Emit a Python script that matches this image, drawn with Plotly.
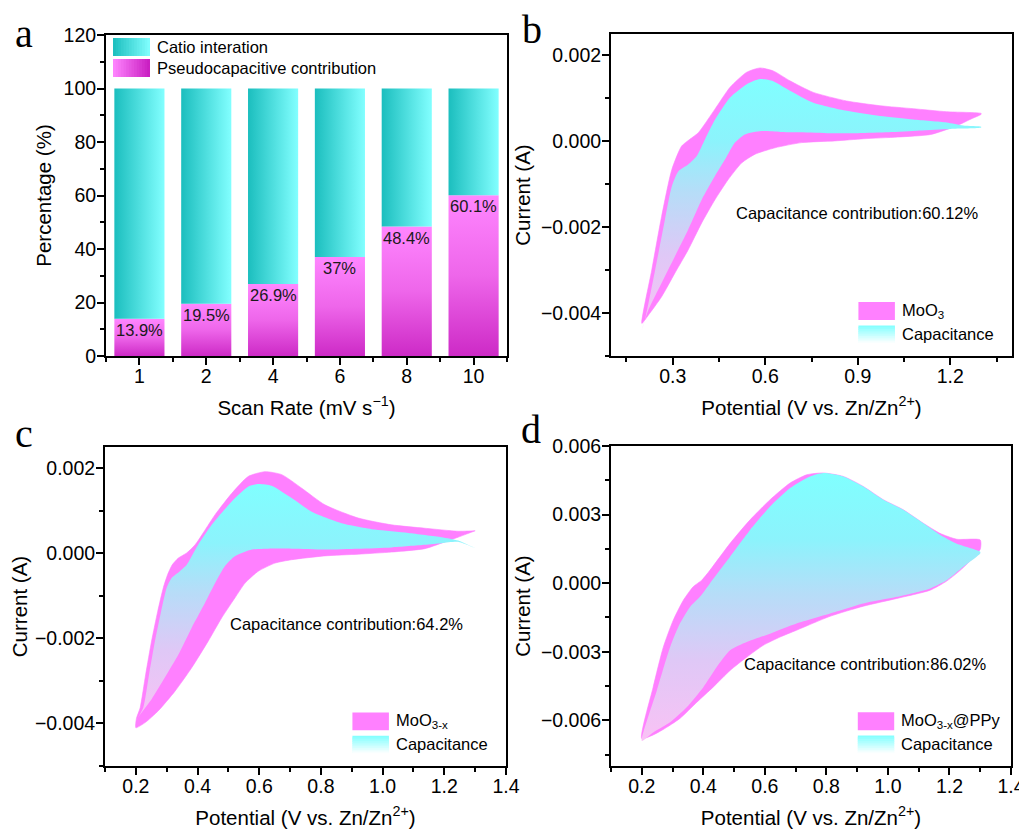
import plotly.graph_objects as go

FONT = "Liberation Sans, Arial, Helvetica, sans-serif"
SERIF = "Liberation Serif, Times New Roman, serif"

# ---------------- panel a data ----------------
scan_rates = ["1", "2", "4", "6", "8", "10"]
pseudocapacitive = [13.9, 19.5, 26.9, 37.0, 48.4, 60.1]
catio_intercalation = [86.1, 80.5, 73.1, 63.0, 51.6, 39.9]
bar_labels = ["13.9%", "19.5%", "26.9%", "37%", "48.4%", "60.1%"]

# ---------------- panel b data (MoO3) : (potential V, current A) ----------------
b_total_anodic = [(0.200, -0.00424), (0.232, -0.00300), (0.264, -0.00175), (0.297, -0.00066),
                  (0.329, -0.00011), (0.356, 0.00005), (0.383, 0.00020), (0.437, 0.00075),
                  (0.486, 0.00126), (0.540, 0.00161), (0.583, 0.00171), (0.626, 0.00164),
                  (0.680, 0.00141), (0.756, 0.00114), (0.864, 0.00094), (0.972, 0.00083),
                  (1.080, 0.00076), (1.188, 0.00069), (1.300, 0.00065)]
b_total_cathodic = [(1.300, 0.00063), (1.264, 0.00051), (1.220, 0.00036), (1.137, 0.00016),
                    (1.030, 0.00010), (0.920, 0.00006), (0.826, 0.00001), (0.718, -0.00003),
                    (0.632, -0.00015), (0.567, -0.00030), (0.524, -0.00050), (0.480, -0.00089),
                    (0.437, -0.00136), (0.394, -0.00190), (0.350, -0.00253), (0.307, -0.00307),
                    (0.264, -0.00362), (0.221, -0.00405), (0.200, -0.00424)]
b_cap_anodic = [(0.200, -0.00440), (0.210, -0.00416), (0.243, -0.00300), (0.275, -0.00182),
                (0.297, -0.00105), (0.318, -0.00070), (0.350, -0.00054), (0.378, -0.00034),
                (0.405, 0.00005), (0.437, 0.00050), (0.486, 0.00102), (0.540, 0.00133),
                (0.583, 0.00145), (0.626, 0.00140), (0.680, 0.00118), (0.756, 0.00090),
                (0.864, 0.00071), (0.972, 0.00059), (1.080, 0.00051), (1.188, 0.00044),
                (1.242, 0.00037), (1.300, 0.00034)]
b_cap_cathodic = [(1.300, 0.00032), (1.200, 0.00029), (1.100, 0.00025), (1.000, 0.00021),
                  (0.900, 0.00019), (0.800, 0.00019), (0.700, 0.00021), (0.650, 0.00022),
                  (0.588, 0.00024), (0.534, 0.00016), (0.502, -0.00003), (0.470, -0.00042),
                  (0.437, -0.00081), (0.394, -0.00136), (0.350, -0.00206), (0.307, -0.00268),
                  (0.264, -0.00330), (0.221, -0.00393), (0.200, -0.00440)]

# ---------------- panel c data (MoO3-x) ----------------
c_total_anodic = [(0.200, -0.00410), (0.202, -0.00388), (0.214, -0.00363), (0.232, -0.00284),
                  (0.251, -0.00206), (0.271, -0.00136), (0.289, -0.00081), (0.303, -0.00050),
                  (0.318, -0.00027), (0.338, -0.00011), (0.365, 0.00001), (0.392, 0.00020),
                  (0.457, 0.00091), (0.511, 0.00141), (0.565, 0.00181), (0.619, 0.00192),
                  (0.673, 0.00185), (0.738, 0.00153), (0.813, 0.00114), (0.921, 0.00083),
                  (1.029, 0.00067), (1.137, 0.00059), (1.245, 0.00052), (1.300, 0.00053)]
c_total_cathodic = [(1.300, 0.00053), (1.245, 0.00038), (1.191, 0.00024), (1.137, 0.00011),
                    (1.029, 0.00003), (0.921, -0.00002), (0.813, -0.00006), (0.705, -0.00015),
                    (0.651, -0.00023), (0.597, -0.00042), (0.554, -0.00070), (0.521, -0.00105),
                    (0.478, -0.00152), (0.435, -0.00206), (0.381, -0.00269), (0.327, -0.00324),
                    (0.273, -0.00370), (0.230, -0.00398), (0.200, -0.00410)]
c_cap_anodic = [(0.200, -0.00395), (0.224, -0.00363), (0.243, -0.00284), (0.262, -0.00206),
                (0.282, -0.00136), (0.300, -0.00081), (0.316, -0.00058), (0.343, -0.00042),
                (0.365, -0.00027), (0.381, -0.00007), (0.402, 0.00020), (0.446, 0.00067),
                (0.511, 0.00122), (0.565, 0.00157), (0.597, 0.00163), (0.640, 0.00159),
                (0.705, 0.00130), (0.770, 0.00098), (0.867, 0.00071), (0.975, 0.00056),
                (1.083, 0.00048), (1.191, 0.00038), (1.245, 0.00030), (1.300, 0.00012)]
c_cap_cathodic = [(1.300, 0.00012), (1.245, 0.00027), (1.191, 0.00024), (1.137, 0.00020),
                  (1.029, 0.00014), (0.921, 0.00011), (0.813, 0.00009), (0.705, 0.00011),
                  (0.629, 0.00011), (0.576, 0.00009), (0.521, -0.00007), (0.489, -0.00030),
                  (0.457, -0.00070), (0.424, -0.00117), (0.381, -0.00175), (0.338, -0.00238),
                  (0.294, -0.00292), (0.251, -0.00343), (0.215, -0.00378), (0.200, -0.00395)]

# ---------------- panel d data (MoO3-x@PPy) ----------------
d_total_anodic = [(0.200, -0.00680), (0.237, -0.00455), (0.270, -0.00280), (0.302, -0.00163),
                  (0.335, -0.00075), (0.367, -0.00016), (0.395, 0.00013), (0.422, 0.00057),
                  (0.487, 0.00174), (0.552, 0.00277), (0.617, 0.00365), (0.682, 0.00438),
                  (0.736, 0.00474), (0.790, 0.00482), (0.855, 0.00467), (0.920, 0.00423),
                  (0.985, 0.00365), (1.050, 0.00321), (1.115, 0.00262), (1.169, 0.00218),
                  (1.224, 0.00192), (1.300, 0.00189)]
d_total_cathodic = [(1.300, 0.00148), (1.245, 0.00068), (1.191, 0.00009), (1.137, -0.00031),
                    (1.029, -0.00067), (0.920, -0.00101), (0.812, -0.00145), (0.703, -0.00206),
                    (0.649, -0.00236), (0.595, -0.00272), (0.541, -0.00324), (0.487, -0.00382),
                    (0.432, -0.00455), (0.379, -0.00521), (0.324, -0.00592), (0.270, -0.00640),
                    (0.237, -0.00664), (0.200, -0.00680)]
d_cap_anodic = [(0.200, -0.00690), (0.249, -0.00470), (0.292, -0.00280), (0.324, -0.00177),
                (0.357, -0.00104), (0.389, -0.00060), (0.422, 0.00000), (0.487, 0.00116),
                (0.552, 0.00233), (0.617, 0.00335), (0.682, 0.00416), (0.747, 0.00467),
                (0.790, 0.00482), (0.855, 0.00467), (0.920, 0.00423), (0.985, 0.00365),
                (1.050, 0.00321), (1.115, 0.00262), (1.169, 0.00212), (1.224, 0.00172),
                (1.300, 0.00137)]
d_cap_cathodic = [(1.300, 0.00130), (1.245, 0.00072), (1.191, 0.00013), (1.137, -0.00023),
                  (1.029, -0.00060), (0.920, -0.00089), (0.812, -0.00133), (0.703, -0.00177),
                  (0.617, -0.00221), (0.541, -0.00258), (0.487, -0.00294), (0.443, -0.00368),
                  (0.400, -0.00455), (0.346, -0.00543), (0.292, -0.00609), (0.237, -0.00653),
                  (0.200, -0.00690)]

panel_series = {
    "b": ("MoO<sub>3</sub>", b_total_anodic, b_total_cathodic, b_cap_anodic, b_cap_cathodic,
          "Capacitance contribution:60.12%"),
    "c": ("MoO<sub>3-x</sub>", c_total_anodic, c_total_cathodic, c_cap_anodic, c_cap_cathodic,
          "Capacitance contribution:64.2%"),
    "d": ("MoO<sub>3-x</sub>@PPy", d_total_anodic, d_total_cathodic, d_cap_anodic, d_cap_cathodic,
          "Capacitance contribution:86.02%"),
}

# ---------------- styles / page geometry ----------------
OFF = 8            # the page body margin
W, H = 1019, 824   # figure size so that figure + margin fills the 1027x832 window
MAGENTA = "#FF80FF"
TEAL_BAR = [[0, "#1BBEBE"], [1, "#82FFFF"]]
PINK_BAR = [[0, "#CD2AC6"], [0.5, "#EE66EA"], [1, "#FF86FF"]]
CAP_SCALE = [[0, "#F9C2F5"], [0.3, "#DFC8F6"], [0.55, "#B6DDF8"], [0.75, "#8CF3FC"], [1, "#80FFFF"]]
TICK_SIZE = 19.5
TITLE_SIZE = 20.5
TEXT_SIZE = 16.5
SMOOTH = 0.6


def dom_x(p0, p1):
    return [(p0 - OFF) / W, (p1 - OFF) / W]


def dom_y(top, bottom):
    return [1 - (bottom - OFF) / H, 1 - (top - OFF) / H]


fig = go.Figure()

# ---- panel a bars (stacked) ----
BAR_W = 0.75
for i, (p, c) in enumerate(zip(pseudocapacitive, catio_intercalation)):
    x0, x1 = i - BAR_W / 2, i + BAR_W / 2
    fig.add_trace(go.Scatter(
        x=[x0, x1, x1, x0, x0], y=[0, 0, p, p, 0], mode="lines", fill="toself",
        line=dict(width=0), fillgradient=dict(type="vertical", colorscale=PINK_BAR),
        name="Pseudocapacitive contribution", showlegend=False, hoverinfo="skip",
        xaxis="x", yaxis="y"))
    fig.add_trace(go.Scatter(
        x=[x0, x1, x1, x0, x0], y=[p, p, p + c, p + c, p], mode="lines", fill="toself",
        line=dict(width=0), fillgradient=dict(type="horizontal", colorscale=TEAL_BAR),
        name="Catio interation", showlegend=False, hoverinfo="skip",
        xaxis="x", yaxis="y"))

annotations = []
for i, (p, lab) in enumerate(zip(pseudocapacitive, bar_labels)):
    annotations.append(dict(x=i, y=p, xref="x", yref="y", text=lab, showarrow=False,
                            yanchor="top", xanchor="center", yshift=0,
                            font=dict(family=FONT, size=TEXT_SIZE, color="#1a1a1a")))


def loop(anodic, cathodic):
    xs = [pt[0] for pt in anodic] + [pt[0] for pt in cathodic]
    ys = [pt[1] for pt in anodic] + [pt[1] for pt in cathodic]
    return xs, ys


axis_ids = {"b": ("x2", "y2"), "c": ("x3", "y3"), "d": ("x4", "y4")}
for key, (label, ta, tc, ca, cc, note) in panel_series.items():
    xa, ya = axis_ids[key]
    tx, ty = loop(ta, tc)
    fig.add_trace(go.Scatter(x=tx, y=ty, mode="lines", fill="toself", fillcolor=MAGENTA,
                             line=dict(width=0.6, color=MAGENTA, shape="spline", smoothing=SMOOTH),
                             name=label, showlegend=False, hoverinfo="skip", xaxis=xa, yaxis=ya))
    cx, cy = loop(ca, cc)
    fig.add_trace(go.Scatter(x=cx, y=cy, mode="lines", fill="toself",
                             fillgradient=dict(type="vertical", colorscale=CAP_SCALE),
                             line=dict(width=0, shape="spline", smoothing=SMOOTH),
                             name="Capacitance", showlegend=False, hoverinfo="skip", xaxis=xa, yaxis=ya))


# ---------------- axes ----------------
def axis(**kw):
    base = dict(showline=True, linewidth=2, linecolor="black", mirror=True,
                ticks="outside", ticklen=7, tickwidth=1.5, tickcolor="black",
                showgrid=False, zeroline=False, automargin=False,
                tickfont=dict(family=FONT, size=TICK_SIZE, color="black"),
                title_font=dict(family=FONT, size=TITLE_SIZE, color="black"))
    base.update(kw)
    return base


def minor(**kw):
    base = dict(ticks="outside", ticklen=4, tickwidth=1.5, tickcolor="black", showgrid=False)
    base.update(kw)
    return base


XT = "Potential (V vs. Zn/Zn<sup>2+</sup>)"
XS = -5   # tick label standoff, x axes
YS = -3   # tick label standoff, y axes
fig.update_layout(
    xaxis=axis(domain=dom_x(106, 507), anchor="y", range=[-0.5, 5.5],
               tickmode="array", tickvals=list(range(len(scan_rates))), ticktext=scan_rates,
               ticklabelstandoff=XS,
               minor=minor(tickmode="array", tickvals=[-0.5, 0.5, 1.5, 2.5, 3.5, 4.5, 5.5]),
               title=dict(text="Scan Rate (mV s<sup>\u22121</sup>)", standoff=14)),
    yaxis=axis(domain=dom_y(35, 356), anchor="x", range=[0, 120], dtick=20, tick0=0,
               ticklabelstandoff=YS,
               minor=minor(dtick=10), title=dict(text="Percentage (%)", standoff=6)),
    xaxis2=axis(domain=dom_x(611, 1012), anchor="y2", range=[0.1, 1.4], tick0=0.3, dtick=0.3,
                tickformat=".1f", ticklabelstandoff=XS, minor=minor(dtick=0.15),
                title=dict(text=XT, standoff=14)),
    yaxis2=axis(domain=dom_y(34, 356), anchor="x2", range=[-0.005, 0.0025], tick0=0, dtick=0.002,
                tickformat=".3f", ticklabelstandoff=YS, minor=minor(dtick=0.001),
                title=dict(text="Current (A)", standoff=5)),
    xaxis3=axis(domain=dom_x(105, 506), anchor="y3", range=[0.1, 1.4], tick0=0.2, dtick=0.2,
                tickformat=".1f", ticklabelstandoff=XS, minor=minor(dtick=0.1),
                title=dict(text=XT, standoff=14)),
    yaxis3=axis(domain=dom_y(447, 766), anchor="x3", range=[-0.005, 0.0025], tick0=0, dtick=0.002,
                tickformat=".3f", ticklabelstandoff=YS, minor=minor(dtick=0.001),
                title=dict(text="Current (A)", standoff=5)),
    xaxis4=axis(domain=dom_x(611, 1011), anchor="y4", range=[0.1, 1.4], tick0=0.2, dtick=0.2,
                tickformat=".1f", ticklabelstandoff=XS, minor=minor(dtick=0.1),
                title=dict(text=XT, standoff=14)),
    yaxis4=axis(domain=dom_y(446, 766), anchor="x4", range=[-0.008, 0.006], tick0=0, dtick=0.003,
                tickformat=".3f", ticklabelstandoff=YS, minor=minor(dtick=0.0015),
                title=dict(text="Current (A)", standoff=5)),
)

# ---------------- legends (drawn as swatches + text) ----------------
shapes = []


def hex2rgb(h):
    h = h.lstrip("#")
    return tuple(int(h[k:k + 2], 16) for k in (0, 2, 4))


def mix(c1, c2, t):
    a, b = hex2rgb(c1), hex2rgb(c2)
    return "rgb(%d,%d,%d)" % tuple(round(a[k] + (b[k] - a[k]) * t) for k in range(3))


def swatch(xref, yref, x0, x1, y0, y1, c_start, c_end, direction, n=14):
    for k in range(n):
        col = mix(c_start, c_end, (k + 0.5) / n)
        ext = 0 if k == n - 1 else 0.8
        if direction == "h":
            step = (x1 - x0) / n
            sx0, sx1 = x0 + step * k, x0 + step * (k + 1 + ext)
            sy0, sy1 = y0, y1
        else:  # top to bottom
            step = (y1 - y0) / n
            sy1, sy0 = y1 - step * k, y1 - step * (k + 1 + ext)
            sx0, sx1 = x0, x1
        shapes.append(dict(type="rect", xref=xref, yref=yref, x0=sx0, x1=sx1, y0=sy0, y1=sy1,
                           fillcolor=col, line=dict(width=0), layer="above"))


# panel a legend
swatch("x domain", "y domain", 0.0175, 0.1097, 0.9346, 0.9907, "#1BBEBE", "#82FFFF", "h")
swatch("x domain", "y domain", 0.0175, 0.1097, 0.8692, 0.9252, "#FF86FF", "#C81CC0", "h")
annotations.append(dict(x=0.1222, y=0.9626, xref="x domain", yref="y domain", text="Catio interation",
                        showarrow=False, xanchor="left", yanchor="middle",
                        font=dict(family=FONT, size=TEXT_SIZE, color="black")))
annotations.append(dict(x=0.1222, y=0.8972, xref="x domain", yref="y domain",
                        text="Pseudocapacitive contribution", showarrow=False, xanchor="left",
                        yanchor="middle", font=dict(family=FONT, size=TEXT_SIZE, color="black")))

note_pos = {"b": (0.6147, 0.444), "c": (0.602, 0.444), "d": (0.634, 0.318)}
for key, (label, ta, tc, ca, cc, note) in panel_series.items():
    xa, ya = axis_ids[key]
    xr, yr = xa + " domain", ya + " domain"
    shapes.append(dict(type="rect", xref=xr, yref=yr, x0=0.617, x1=0.708, y0=0.112, y1=0.168,
                       fillcolor=MAGENTA, line=dict(width=0), layer="above"))
    swatch(xr, yr, 0.617, 0.708, 0.040, 0.095, "#80FFFF", "#FFFFFF", "v", n=10)
    annotations.append(dict(x=0.721, y=0.140, xref=xr, yref=yr, text=label, showarrow=False,
                            xanchor="left", yanchor="middle",
                            font=dict(family=FONT, size=TEXT_SIZE, color="black")))
    annotations.append(dict(x=0.721, y=0.068, xref=xr, yref=yr, text="Capacitance", showarrow=False,
                            xanchor="left", yanchor="middle",
                            font=dict(family=FONT, size=TEXT_SIZE, color="black")))
    nx, ny = note_pos[key]
    annotations.append(dict(x=nx, y=ny, xref=xr, yref=yr, text=note, showarrow=False,
                            xanchor="center", yanchor="middle",
                            font=dict(family=FONT, size=TEXT_SIZE, color="black")))

# panel letters
for letter, px, py in [("a", 24, 33.5), ("b", 532, 29.5), ("c", 24, 433.5), ("d", 531, 429.5)]:
    annotations.append(dict(x=(px - OFF) / W, y=1 - (py - OFF) / H, xref="paper", yref="paper",
                            text=letter, showarrow=False, xanchor="center", yanchor="middle",
                            font=dict(family=SERIF, size=40, color="black")))

fig.update_layout(
    width=W, height=H, margin=dict(l=0, r=0, t=0, b=0, pad=0),
    paper_bgcolor="white", plot_bgcolor="white", showlegend=False,
    shapes=shapes, annotations=annotations,
    font=dict(family=FONT, color="black"),
)

fig.write_html("out.html")
